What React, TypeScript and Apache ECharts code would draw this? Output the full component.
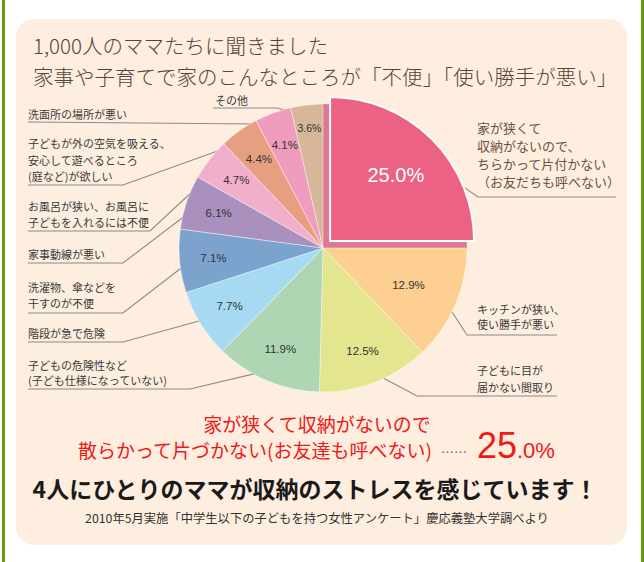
import React, { useEffect, useRef } from 'react';
import * as echarts from 'echarts';

const TITLE_LINES = ['1,000人のママたちに聞きました', '家事や子育てで家のこんなところが「不便」「使い勝手が悪い」'];
const CATEGORIES = [
  '家が狭くて\n収納がないので、\nちらかって片付かない\n（お友だちも呼べない）',
  'キッチンが狭い、\n使い勝手が悪い',
  '子どもに目が\n届かない間取り',
  '子どもの危険性など\n(子ども仕様になっていない)',
  '階段が急で危険',
  '洗濯物、傘などを\n干すのが不便',
  '家事動線が悪い',
  'お風呂が狭い、お風呂に\n子どもを入れるには不便',
  '子どもが外の空気を吸える、\n安心して遊べるところ\n(庭など)が欲しい',
  '洗面所の場所が悪い',
  'その他',
];
const VALUES = [25.0, 12.9, 12.5, 11.9, 7.7, 7.1, 6.1, 4.7, 4.4, 4.1, 3.6];
const COLORS = ['#EB6285', '#FDD091', '#E3E58F', '#AFD6B3', '#A6DAF2', '#7CA3CE', '#A990BD', '#F2AFCC', '#E6A081', '#EF9CBE', '#D7B79A'];
const SUMMARY_LINES = ['家が狭くて収納がないので', '散らかって片づかない(お友達も呼べない)'];
const SUMMARY_VALUE = ['25', '.0%'];
const HEADLINE = '4人にひとりのママが収納のストレスを感じています！';
const SOURCE = '2010年5月実施「中学生以下の子どもを持つ女性アンケート」慶応義塾大学調べより';

// label layout (positions only)
const LABEL_POS = [
  { x: 477, top: 118, lh: 18, uy: 197, elbow: 478, end: 616 },
  { x: 477, top: 301.5, lh: 15, uy: 335, elbow: 467, end: 557 },
  { x: 477, top: 361.7, lh: 16.7, uy: 396, elbow: 417, end: 557 },
  { x: 28, top: 357.5, lh: 15, uy: 389, elbow: 190, end: 28 },
  { x: 28, top: 325, lh: 16, uy: 342, elbow: 123, end: 28 },
  { x: 28, top: 278.3, lh: 16.7, uy: 313, elbow: 123, end: 28 },
  { x: 28, top: 246, lh: 16, uy: 263, elbow: 123, end: 28 },
  { x: 28, top: 198, lh: 15.7, uy: 231, elbow: 150, end: 28 },
  { x: 28, top: 134.7, lh: 16.7, uy: 185, elbow: 123, end: 28 },
  { x: 28, top: 106, lh: 16, uy: 122, elbow: null as number | null, end: 28 },
  { x: 215, top: 92, lh: 16, uy: 108, elbow: 277, end: 213 },
];

const FONT_JP = '"Noto Sans CJK JP", "Noto Sans", sans-serif';
const FONT_NUM = '"Liberation Sans", Arial, sans-serif';
const CENTER = [323, 248];
const R = 144;
const OFFSET = 10;
const CLEAR = 'rgba(0,0,0,0)';

export default function App() {
  const ref = useRef<HTMLDivElement>(null);
  useEffect(() => {
    if (!ref.current) return;
    const chart = echarts.init(ref.current, undefined, { renderer: 'svg' });
    const base: any = {
      type: 'pie',
      center: CENTER,
      startAngle: 90,
      clockwise: true,
      avoidLabelOverlap: false,
      selectedOffset: OFFSET,
      emphasis: { disabled: true },
      animation: false,
    };
    const fmt = (p: any) => Number(p.value).toFixed(1) + '%';
    const pctLabel = { show: true, position: 'inside', formatter: fmt, fontFamily: FONT_NUM, fontSize: 11.5, color: '#333333' };
    const option: any = {
      animation: false,
      backgroundColor: '#ffffff',
      graphic: [
        { type: 'rect', z: -10, shape: { x: 2, y: 0, width: 3, height: 562 }, style: { fill: '#6a9a0f' } },
        { type: 'rect', z: -10, shape: { x: 641, y: 0, width: 3, height: 562 }, style: { fill: '#6a9a0f' } },
        { type: 'rect', z: -10, shape: { x: 16, y: 19, width: 611, height: 526, r: 18 }, style: { fill: '#FEEEDF' } },
        { type: 'text', z: 10, x: 33, y: 45, style: { text: TITLE_LINES[0], font: `300 20.5px ${FONT_JP}`, fill: '#55443a', verticalAlign: 'middle' } },
        { type: 'text', z: 10, x: 33, y: 76, style: { text: TITLE_LINES[1], font: `300 20.5px ${FONT_JP}`, fill: '#55443a', verticalAlign: 'middle' } },
        { type: 'text', z: 10, x: 317, y: 423, style: { text: SUMMARY_LINES[0], font: `19px ${FONT_JP}`, fill: '#f01818', align: 'center', verticalAlign: 'middle' } },
        { type: 'text', z: 10, x: 78, y: 449, style: { text: SUMMARY_LINES[1], font: `19px ${FONT_JP}`, fill: '#f01818', align: 'left', verticalAlign: 'middle' } },
        { type: 'text', z: 10, x: 441, y: 451, style: { text: '……', font: `13px ${FONT_JP}`, fill: '#777777', align: 'left', verticalAlign: 'middle' } },
        { type: 'text', z: 10, x: 477, y: 445, style: { text: SUMMARY_VALUE[0], font: `36px ${FONT_NUM}`, fill: '#f01818', align: 'left', verticalAlign: 'middle' } },
        { type: 'text', z: 10, x: 517, y: 450, style: { text: SUMMARY_VALUE[1], font: `22px ${FONT_NUM}`, fill: '#f01818', align: 'left', verticalAlign: 'middle' } },
        { type: 'text', z: 10, x: 315, y: 488, style: { text: HEADLINE, font: `bold 23px ${FONT_JP}`, fill: '#1a1a1a', align: 'center', verticalAlign: 'middle' } },
        { type: 'text', z: 10, x: 317, y: 518, style: { text: SOURCE, font: `12.3px ${FONT_JP}`, fill: '#333333', align: 'center', verticalAlign: 'middle' } },
      ],
      series: [
        {
          ...base,
          name: 'side',
          silent: true,
          radius: [0, R],
          label: { show: false },
          labelLine: { show: false },
          data: VALUES.map((v, i) => ({ value: v, name: CATEGORIES[i], itemStyle: { color: i === 0 ? '#e07894' : CLEAR, borderWidth: 0 } })),
        },
        {
          ...base,
          name: 'main',
          silent: true,
          selectedMode: 'single',
          radius: [0, R],
          label: { show: false },
          labelLine: { show: false },
          data: VALUES.map((v, i) => ({
            value: v,
            name: CATEGORIES[i],
            selected: i === 0,
            itemStyle: { color: COLORS[i], borderColor: i === 0 ? '#ffffff' : 'rgba(255,255,255,0.6)', borderWidth: i === 0 ? 2 : 0.7 },
            select: { itemStyle: { color: COLORS[i], borderColor: '#ffffff', borderWidth: i === 0 ? 2 : 0.7 } },
          })),
        },
        {
          ...base,
          name: 'pctSmall',
          silent: true,
          radius: [70, R],
          itemStyle: { color: CLEAR, borderWidth: 0 },
          labelLine: { show: false },
          label: pctLabel,
          data: VALUES.map((v, i) => ({ value: v, name: CATEGORIES[i], label: { show: i >= 2 && i <= 9 } })),
        },
        {
          ...base,
          name: 'pctTiny',
          silent: true,
          radius: [88, 148],
          itemStyle: { color: CLEAR, borderWidth: 0 },
          labelLine: { show: false },
          label: { ...pctLabel, fontSize: 10.5 },
          data: VALUES.map((v, i) => ({ value: v, name: CATEGORIES[i], label: { show: i === 10 } })),
        },
        {
          ...base,
          name: 'pctBig',
          silent: true,
          selectedMode: 'single',
          radius: [36, R],
          itemStyle: { color: CLEAR, borderWidth: 0 },
          select: { itemStyle: { color: CLEAR, borderWidth: 0 } },
          labelLine: { show: false },
          label: pctLabel,
          data: VALUES.map((v, i) => ({
            value: v,
            name: CATEGORIES[i],
            selected: i === 0,
            label: i === 0 ? { show: true, fontSize: 20, color: '#ffffff' } : { show: i === 1 },
          })),
        },
        {
          ...base,
          name: 'outer',
          silent: true,
          radius: [0, 132],
          itemStyle: { color: CLEAR, borderWidth: 0 },
          label: { show: true, position: 'outer', formatter: '{b}', fontFamily: FONT_JP, fontSize: 11, color: '#3a3a3a' },
          labelLine: { show: true, length: 5, length2: 5, lineStyle: { color: '#8a8a8a', width: 1.1 } },
          data: VALUES.map((v, i) => ({
            value: v,
            name: CATEGORIES[i],
            label: i === 0 ? { fontSize: 13, color: '#6d5243', lineHeight: LABEL_POS[i].lh } : { lineHeight: LABEL_POS[i].lh },
          })),
          labelLayout: (p: any) => {
            const L = LABEL_POS[p.dataIndex];
            const pts = p.labelLinePoints;
            const start = pts && pts[0] ? pts[0] : [L.end, L.uy];
            const line = L.elbow === null ? [start, [L.end, L.uy]] : [start, [L.elbow, L.uy], [L.end, L.uy]];
            return { x: L.x, y: L.top, align: 'left', verticalAlign: 'top', labelLinePoints: line };
          },
        },
      ],
    };
    chart.setOption(option);
    return () => chart.dispose();
  }, []);
  return (
    <div style={{ position: 'fixed', left: 0, top: 0, width: 644, height: 562 }}>
      <div ref={ref} style={{ width: 644, height: 562 }} />
    </div>
  );
}
